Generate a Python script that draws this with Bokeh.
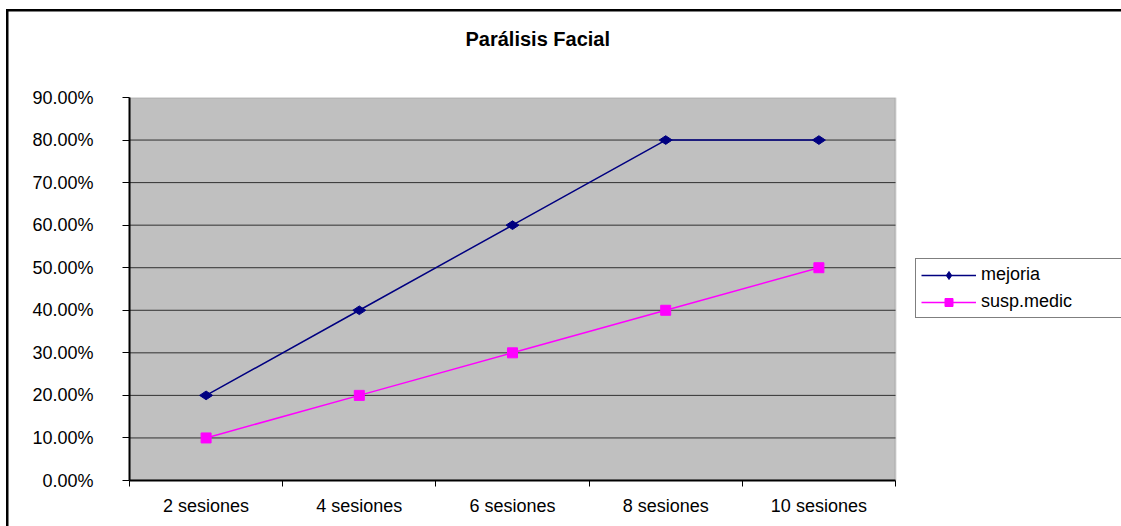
import math
from bokeh.plotting import figure
from bokeh.models import (ColumnDataSource, Range1d, FixedTicker, NumeralTickFormatter,
                          Legend, LegendItem, Title, BoxAnnotation)
from bokeh.embed import file_html
from bokeh.resources import INLINE

# Data
categories = ["2 sesiones", "4 sesiones", "6 sesiones", "8 sesiones", "10 sesiones"]
mejoria = [0.20, 0.40, 0.60, 0.80, 0.80]
susp_medic = [0.10, 0.20, 0.30, 0.40, 0.50]
y_ticks = [0.0, 0.1, 0.2, 0.3, 0.4, 0.5, 0.6, 0.7, 0.8, 0.9]

FONT = "Liberation Sans"

n = len(categories)
x_pos = [i + 0.5 for i in range(n)]
src = ColumnDataSource(dict(x=x_pos, mejoria=mejoria, susp=susp_medic))
grid_src = ColumnDataSource(dict(y=y_ticks[1:-1]))

# Layout (pixels): the frame runs to the right edge so the legend can sit
# beside the plotting area; the grey plotting area covers the category span.
W, H = 1121, 526
LEFT, TOP, BOTTOM = 129, 97, 46
AREA_W = 766
x_end = n * (W - LEFT) / AREA_W

p = figure(width=W, height=H, output_backend="svg", toolbar_location=None,
           x_range=Range1d(0, x_end), y_range=Range1d(0, max(y_ticks)),
           min_border_left=LEFT, min_border_right=0, min_border_top=TOP,
           min_border_bottom=BOTTOM)

# Chart-area rule along the left and top, painted behind the transparent border
p.styles = {
    "background": ("linear-gradient(#000, #000) 6px 9px / 2.5px 517px no-repeat, "
                   "linear-gradient(#000, #000) 6px 9px / 1115px 2.5px no-repeat, #fff"),
}

p.background_fill_color = "white"
p.border_fill_alpha = 0
p.outline_line_color = None

# Grey plotting area with grey top/right edges
p.add_layout(BoxAnnotation(left=0, right=n, bottom=0, top=max(y_ticks),
                           fill_color="#C0C0C0", fill_alpha=1,
                           line_color="#808080", line_width=2, level="underlay"))

# Title, with a blank spacer panel between it and the plotting area
p.title = Title(text="Parálisis Facial", align="left", offset=336,
                text_font=FONT, text_font_size="20px", text_font_style="bold",
                text_color="black", standoff=12)
p.add_layout(Title(text=" ", text_font_size="1px", standoff=39), "above")

# Horizontal gridlines across the plotting area
p.xgrid.grid_line_color = None
p.ygrid.grid_line_color = None
p.segment(x0=0, x1=n, y0="y", y1="y", source=grid_src,
          line_color="#303030", line_width=1)

# Y axis
p.yaxis.ticker = FixedTicker(ticks=y_ticks)
p.yaxis.formatter = NumeralTickFormatter(format="0.00%")
p.yaxis.axis_line_color = "black"
p.yaxis.axis_line_width = 2
p.yaxis.major_tick_line_color = "black"
p.yaxis.major_tick_out = 7
p.yaxis.major_tick_in = 0
p.yaxis.minor_tick_line_color = None
p.yaxis.major_label_standoff = 29
p.yaxis.major_label_text_font = FONT
p.yaxis.major_label_text_font_size = "18px"
p.yaxis.major_label_text_color = "black"

# X axis: labels at category centres, tick marks at category boundaries
p.xaxis.bounds = (0, n)
p.xaxis.ticker = FixedTicker(ticks=x_pos, minor_ticks=list(range(n + 1)))
p.xaxis.major_label_overrides = {x: c for x, c in zip(x_pos, categories)}
p.xaxis.axis_line_color = "black"
p.xaxis.axis_line_width = 2
p.xaxis.major_tick_line_color = None
p.xaxis.major_tick_out = 0
p.xaxis.major_tick_in = 0
p.xaxis.minor_tick_line_color = "black"
p.xaxis.minor_tick_out = 6
p.xaxis.minor_tick_in = 0
p.xaxis.major_label_standoff = 9
p.xaxis.major_label_text_font = FONT
p.xaxis.major_label_text_font_size = "18px"
p.xaxis.major_label_text_color = "black"

# Series
l1 = p.line("x", "mejoria", source=src, line_color="#000080", line_width=1.5)
m1 = p.scatter("x", "mejoria", source=src, marker="diamond", size=13, angle=math.pi / 2,
               fill_color="#000080", line_color="#000080")
l2 = p.line("x", "susp", source=src, line_color="#FF00FF", line_width=1.5)
m2 = p.scatter("x", "susp", source=src, marker="square", size=10,
               fill_color="#FF00FF", line_color="#FF00FF")

legend = Legend(items=[LegendItem(label="mejoria", renderers=[l1, m1]),
                       LegendItem(label="susp.medic", renderers=[l2, m2])],
                location=(786, 162), orientation="vertical",
                border_line_color="black", border_line_width=1,
                background_fill_color="white", background_fill_alpha=1,
                label_text_font=FONT, label_text_font_size="18px",
                label_text_color="black",
                glyph_width=55, glyph_height=20, label_height=20, label_width=150,
                label_standoff=5, padding=5, spacing=6, margin=0)
p.add_layout(legend, "center")

open("out.html", "w").write(file_html(p, INLINE))
